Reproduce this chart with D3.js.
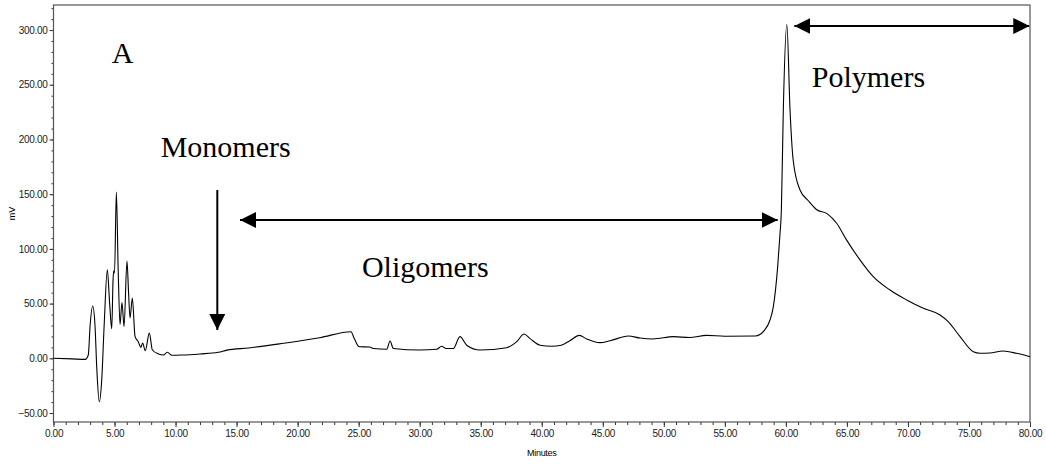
<!DOCTYPE html>
<html>
<head>
<meta charset="utf-8">
<script src="https://cdn.jsdelivr.net/npm/d3@7"></script>
<style>
  body { margin: 0; background: #fff; }
  .tick text { font-family: "Liberation Sans", Arial, sans-serif; font-size: 10px; fill: #222; letter-spacing: -0.3px; }
  .ann { font-family: "Liberation Serif", "Times New Roman", serif; font-size: 30px; fill: #000; }
</style>
</head>
<body>
<script>
// chromatogram trace (minutes, mV)
var minutes = [0, 1.5, 2.6, 2.85, 3.0, 3.21, 3.4, 3.55, 3.75, 3.95, 4.15, 4.41, 4.6, 4.77, 4.88, 4.93, 5.0, 5.15, 5.3, 5.45,
    5.61, 5.78, 6.02, 6.15, 6.27, 6.46, 6.68, 6.95, 7.16, 7.3, 7.52, 7.85, 8.1, 8.6, 9.0, 9.33, 9.7, 10.5, 12, 13.5,
    14.2, 16, 18.8, 21.8, 24.37, 24.65, 25.05, 25.9, 26.2, 27.3, 27.57, 27.84, 30, 31.4, 31.8, 32.16, 32.76, 33.3, 33.85, 34.94,
    37.13, 37.95, 38.55, 39.04, 39.86, 40.8, 41.6, 42.3, 43.08, 43.68, 44.77, 45.6, 47.1, 48.06, 49.1, 50.8, 52.1, 53.5, 55, 57.5, 58.2,
    58.7, 58.97, 59.33, 59.52, 59.63, 59.79, 60.08, 60.34, 60.6, 61.15, 61.84, 62.5, 63.4, 64.16, 64.98, 66.07, 67.16, 68.53, 69.9, 71.26,
    72.63, 73.3, 74.27, 75.36, 75.9, 76.7, 77.8, 78.9, 80];
var mV = [0, -0.5, -1, 3, 30, 47.8, 30, -10, -39.7, -20, 30, 81, 50, 27, 72, 80, 78, 152, 80, 31,
    51, 29, 89, 60, 37, 55, 20, 15, 10, 14, 7, 23, 7.6, 4, 3, 5.5, 2.8, 3, 4, 5.5,
    7.5, 9.5, 13.7, 18.8, 24.3, 17.8, 10.6, 10.4, 9, 8.3, 15.8, 9, 7.6, 8.3, 11, 9, 9, 19.8, 12, 7.6,
    9.7, 15.2, 22.2, 18, 12, 11, 12, 16.1, 21, 17.7, 14.3, 16.1, 20.4, 18.5, 17.7, 19.8, 19, 21, 20.2, 20.4, 25,
    35, 47, 84, 114, 135, 227, 305, 227, 181, 154, 144, 136, 132, 123.4, 108, 90, 74.6, 62.4, 53.3, 45.7,
    39.6, 33.5, 19.8, 6, 4.6, 4.8, 6.7, 4.6, 1.5];

var xTicks = d3.range(0, 81, 5);
var yTicks = [-50, 0, 50, 100, 150, 200, 250, 300];

// annotation labels, in data units
var labels = ['A', 'Monomers', 'Oligomers', 'Polymers'];
var labelT = [4.77, 8.78, 25.27, 62.12];
var labelV = [269.9, 184.3, 74.3, 248.3];

var width = 1046;
var height = 464;
var margin = { top: 5, left: 53.5, right: 16, bottom: 42 };

var svg = d3.select('body').append('svg')
    .attr('width', width)
    .attr('height', height);

var x = d3.scaleLinear()
    .domain([0, 80])
    .range([margin.left, width - margin.right]);

var y = d3.scaleLinear()
    .domain([-58.2, 322.9])
    .range([height - margin.bottom, margin.top]);

var fmt = d3.format('.2f');

// minor ticks
svg.append('g')
    .attr('transform', 'translate(' + margin.left + ',0)')
    .call(d3.axisLeft(y).tickValues(d3.range(-50, 321, 10)).tickSize(2).tickFormat(''))
    .call(function (g) { g.select('.domain').remove(); g.selectAll('line').attr('stroke', '#333'); });

svg.append('g')
    .attr('transform', 'translate(0,' + (height - margin.bottom) + ')')
    .call(d3.axisBottom(x).tickValues(d3.range(0, 81, 1)).tickSize(3).tickFormat(''))
    .call(function (g) { g.select('.domain').remove(); g.selectAll('line').attr('stroke', '#333'); });

// major ticks
var yaxis = svg.append('g')
    .attr('transform', 'translate(' + margin.left + ',0)')
    .call(d3.axisLeft(y).tickValues(yTicks).tickSize(4).tickPadding(2).tickFormat(fmt).tickSizeOuter(0));
yaxis.select('.domain').remove();
yaxis.selectAll('line').attr('stroke', '#333');

var xaxis = svg.append('g')
    .attr('transform', 'translate(0,' + (height - margin.bottom) + ')')
    .call(d3.axisBottom(x).tickValues(xTicks).tickSize(5).tickPadding(3).tickFormat(fmt).tickSizeOuter(0));
xaxis.select('.domain').remove();
xaxis.selectAll('line').attr('stroke', '#333');

// frame
svg.append('rect')
    .attr('x', margin.left)
    .attr('y', margin.top)
    .attr('width', width - margin.right - margin.left)
    .attr('height', height - margin.bottom - margin.top)
    .attr('fill', 'none')
    .attr('stroke', '#555')
    .attr('stroke-width', 1.2);

// axis titles
svg.append('text')
    .attr('x', (margin.left + width - margin.right) / 2)
    .attr('y', 456)
    .attr('text-anchor', 'middle')
    .style('font-family', '"Liberation Sans", Arial, sans-serif')
    .style('font-size', '9px')
    .style('letter-spacing', '-0.3px')
    .text('Minutes');

svg.append('text')
    .attr('transform', 'translate(15,' + ((margin.top + height - margin.bottom) / 2) + ') rotate(-90)')
    .attr('text-anchor', 'middle')
    .style('font-family', '"Liberation Sans", Arial, sans-serif')
    .style('font-size', '9px')
    .text('mV');

// trace
var pts = minutes.map(function (t, i) { return [t, mV[i]]; });
var line = d3.line()
    .x(function (d) { return x(d[0]); })
    .y(function (d) { return y(d[1]); })
    .curve(d3.curveMonotoneX);

svg.append('path')
    .datum(pts)
    .attr('d', line)
    .attr('fill', 'none')
    .attr('stroke', '#000')
    .attr('stroke-width', 1.1);

// arrows
var defs = svg.append('defs');
defs.append('marker')
    .attr('id', 'head')
    .attr('viewBox', '0 0 16 16')
    .attr('refX', 16)
    .attr('refY', 8)
    .attr('markerWidth', 16)
    .attr('markerHeight', 16)
    .attr('markerUnits', 'userSpaceOnUse')
    .attr('orient', 'auto-start-reverse')
    .append('path')
    .attr('d', 'M0,0 L16,8 L0,16 Z')
    .attr('fill', '#000');

function arrow(t1, v1, t2, v2, both) {
    var p = svg.append('line')
        .attr('x1', x(t1)).attr('y1', y(v1))
        .attr('x2', x(t2)).attr('y2', y(v2))
        .attr('stroke', '#000')
        .attr('stroke-width', 2)
        .attr('marker-end', 'url(#head)');
    if (both) p.attr('marker-start', 'url(#head)');
}

arrow(13.42, 153.8, 13.42, 25.9, false);
arrow(15.28, 126.4, 59.33, 126.4, true);
arrow(60.69, 303.7, 79.94, 303.7, true);

svg.selectAll('.ann')
    .data(labels)
    .join('text')
    .attr('class', 'ann')
    .attr('x', function (d, i) { return x(labelT[i]); })
    .attr('y', function (d, i) { return y(labelV[i]); })
    .text(function (d) { return d; });
</script>
</body>
</html>
